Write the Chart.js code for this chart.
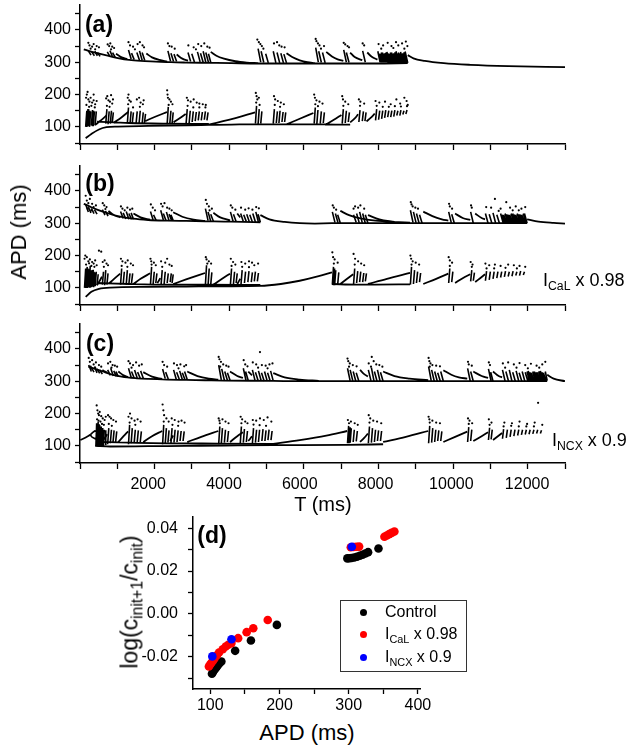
<!DOCTYPE html>
<html>
<head>
<meta charset="utf-8">
<script src="https://cdn.jsdelivr.net/npm/chart.js"></script>
<style>
  body { margin: 0; background: #fff; }
  #wrap { position: relative; width: 628px; height: 750px; background: #fff; overflow: hidden; font-family: "Liberation Sans", Arial, sans-serif; color: #000; }
  canvas { position: absolute; }
  .lbl { position: absolute; white-space: nowrap; line-height: 1; }
  .rot { transform: translate(-50%, -50%) rotate(-90deg); }
  .ctr { transform: translate(-50%, -50%); }
  .sub { font-size: 0.68em; vertical-align: -0.35em; }
  .tag { font-weight: bold; font-size: 23px; }
  #legend { position: absolute; left: 340px; top: 600px; width: 127px; height: 72px; border: 1px solid #333; box-sizing: border-box; }
  .row { position: absolute; left: 0; font-size: 16px; line-height: 1; white-space: nowrap; }
  .dot { position: absolute; left: 19px; width: 7px; height: 7px; border-radius: 50%; }
  .txt { position: absolute; left: 44px; }
</style>
</head>
<body>
<div id="wrap">
  <canvas id="chartA" width="628" height="152" style="left:0;top:0;width:628px;height:152px"></canvas>
  <canvas id="chartB" width="628" height="152" style="left:0;top:161px;width:628px;height:152px"></canvas>
  <canvas id="chartC" width="628" height="182" style="left:0;top:319px;width:628px;height:182px"></canvas>
  <canvas id="chartD" width="340" height="215" style="left:100px;top:505px;width:340px;height:215px"></canvas>

  <div class="lbl tag ctr" style="left:99px;top:24px">(a)</div>
  <div class="lbl tag ctr" style="left:100px;top:183px">(b)</div>
  <div class="lbl tag ctr" style="left:100px;top:343px">(c)</div>
  <div class="lbl tag ctr" style="left:212px;top:535px">(d)</div>

  <div class="lbl rot" style="left:19px;top:232px;font-size:22px">APD (ms)</div>
  <div class="lbl ctr" style="left:323px;top:504px;font-size:20px">T (ms)</div>
  <div class="lbl" style="left:543px;top:271px;font-size:18px">I<span class="sub">CaL</span> x 0.98</div>
  <div class="lbl" style="left:552px;top:431px;font-size:18px">I<span class="sub">NCX</span> x 0.9</div>

  <div class="lbl rot" style="left:132px;top:602px;font-size:23px">log(c<span class="sub">init+1</span>/c<span class="sub">init</span>)</div>
  <div class="lbl ctr" style="left:307px;top:733px;font-size:22px">APD (ms)</div>

  <div id="legend">
    <div class="row" style="top:3px"><span class="dot" style="top:5px;background:#000"></span><span class="txt">Control</span></div>
    <div class="row" style="top:25px"><span class="dot" style="top:5px;background:#ff0000"></span><span class="txt">I<span class="sub">CaL</span> x 0.98</span></div>
    <div class="row" style="top:48px"><span class="dot" style="top:5px;background:#0000ff"></span><span class="txt">I<span class="sub">NCX</span> x 0.9</span></div>
  </div>
</div>

<script>
// tick labels of the shared time axis (only shown under panel c)
const tTickLabels = [2000, 4000, 6000, 8000, 10000, 12000];

// ---------- panel (a): control ----------
const aUpperCurve = [
  [300,340],[450,334],[650,328],[900,321],[1200,313],[1500,307],[1800,304],[2200,302],[2600,300],[3000,299],[3600,298],[4200,297],[4900,296],[6000,296],[7000,296],[8000,296],[8850,297], null,
  [1150,326],[1300,315],[1450,309], null,
  [1950,327],[2100,315],[2300,307],[2500,302], null,
  [2750,324],[2900,311],[3050,305], null,
  [3650,332],[3800,320],[4000,311],[4300,303],[4600,299],[4900,297], null,
  [5650,328],[5800,316],[6000,306],[6200,300],[6400,297], null,
  [6700,332],[6850,318],[7000,309],[7150,304], null,
  [7330,330],[7450,316],[7650,306], null,
  [7780,330],[7900,317],[8050,308], null,
  [8850,322],[9000,312],[9300,304],[9800,297],[10500,292],[11500,288],[13000,285]
];
const aUpperTeeth = [
  [420,335],[490,322],null,[510,332],[580,320],null,[590,334],[660,320],null,[660,330],[730,318],null,
  [920,332],[990,318],null,[990,336],[1060,316],null,[1060,330],[1130,315],null,
  [1480,338],[1550,310],null,[1560,328],[1630,308],null,[1700,330],[1770,306],null,[1770,335],[1840,306],null,[1840,330],[1910,305],null,
  [2520,335],[2590,303],null,[2600,328],[2670,302],null,[2680,325],[2750,302],null,
  [3050,330],[3120,302],null,[3150,326],[3220,301],null,[3300,332],[3370,301],null,[3380,328],[3450,300],null,[3450,334],[3520,300],null,[3520,330],[3590,300],null,[3590,326],[3650,300],null,
  [4900,342],[4970,300],null,[4980,334],[5050,299],null,[5100,326],[5170,298],null,[5300,334],[5370,298],null,[5400,330],[5470,298],null,[5500,328],[5570,298],null,[5580,325],[5650,298],null,
  [6420,345],[6490,300],null,[6500,334],[6570,299],null,[6600,330],[6670,298],null,
  [7160,338],[7230,300],null,[7230,330],[7300,299],null,
  [7660,335],[7730,300],null,
  [8060,334],[8120,300],null,[8090,326],[8150,299],null,[8120,326],[8180,299],null,[8150,330],[8210,299],null,[8180,330],[8240,299],null,[8210,326],[8270,299],null,
  [8240,328],[8300,299],null,[8270,330],[8330,298],null,[8300,332],[8360,298],null,[8330,327],[8390,298],null,[8360,326],[8420,298],null,[8390,330],[8450,298],null,
  [8420,330],[8480,298],null,[8450,326],[8510,298],null,[8480,328],[8540,298],null,[8510,331],[8570,298],null,[8540,334],[8600,298],null,[8570,327],[8630,298],null,
  [8600,330],[8660,298],null,[8630,328],[8690,298],null,[8660,332],[8720,298],null,[8690,327],[8750,298],null,[8720,328],[8780,298],null,[8750,331],[8810,298],null,[8780,333],[8850,298]
];
const aLowerCurve = [
  [350,65],[500,78],[700,92],[900,99],[1200,101],[2000,103],[3000,105],[3600,106],[4200,107],[4820,108],[5300,108],[5650,108],[6360,108],[7000,107],[7330,107], null,
  [650,116],[1500,112],[2500,110],[3600,109], null,
  [600,106],[750,120],[900,135], null,
  [1085,112],[1300,130],[1470,146], null,
  [1920,118],[2200,132],[2500,146], null,
  [2670,114],[2850,128],[2990,140], null,
  [3600,107],[4200,124],[4820,145], null,
  [5650,108],[6000,125],[6360,143], null,
  [6670,106],[6900,122],[7100,137], null,
  [7330,114],[7450,126],[7540,139], null,
  [7760,117],[7870,128],[7980,141]
];
const aLowerTeeth = [
  [350,100],[380,150],null,[380,100],[410,155],null,[400,102],[430,155],null,[430,102],[460,150],null,[450,100],[480,148],null,[500,104],[530,152],null,[530,102],[560,150],null,[550,102],[580,148],null,[600,105],[630,148],null,
  [880,110],[910,155],null,[940,108],[970,148],null,[1000,110],[1030,150],null,[1050,112],[1080,145],null,
  [1450,112],[1480,160],null,[1520,110],[1550,148],null,[1580,112],[1610,145],null,
  [1680,110],[1710,148],null,[1760,112],[1790,150],null,[1840,110],[1870,145],null,[1900,112],[1930,140],null,
  [2500,108],[2530,162],null,[2570,110],[2600,150],null,[2630,110],[2660,145],null,
  [3000,110],[3030,155],null,[3080,112],[3110,150],null,[3160,115],[3190,148],null,[3240,118],[3270,146],null,[3320,120],[3350,148],null,[3400,120],[3430,146],null,[3480,122],[3510,148],null,[3550,120],[3580,145],null,
  [4830,110],[4860,165],null,[4900,108],[4930,155],null,[4970,110],[5000,148],null,[5300,110],[5330,155],null,[5380,112],[5410,148],null,[5450,112],[5480,150],null,[5530,115],[5560,146],null,[5600,115],[5630,145],null,
  [6380,110],[6410,160],null,[6450,108],[6480,152],null,[6540,110],[6570,148],null,[6620,112],[6650,145],null,
  [7120,110],[7150,155],null,[7200,112],[7230,150],null,[7280,115],[7310,145],null,
  [7560,115],[7590,152],null,[7650,118],[7680,148],null,[7720,118],[7750,145],null,
  [8000,120],[8030,155],null,[8080,122],[8110,150],null,[8160,125],[8190,150],null,[8240,128],[8270,152],null,[8320,130],[8350,150],null,[8400,130],[8430,150],null,
  [8480,132],[8510,152],null,[8560,135],[8590,150],null,[8640,135],[8670,152],null,[8720,138],[8750,150],null,[8800,140],[8830,152]
];
const aDots = [
  [420,360],[450,352],[520,348],[560,356],[640,350],[700,346],[480,342],[600,340],
  [930,355],[970,350],[1000,358],[1050,348],[1100,344],[1020,340],
  [1480,362],[1520,352],[1600,348],[1720,356],[1780,362],[1850,352],[1890,346],[1650,340],
  [2520,358],[2560,350],[2620,348],[2700,342],
  [3060,352],[3200,346],[3320,356],[3400,350],[3480,358],[3560,348],[3620,345],[3260,340],
  [4880,370],[4920,362],[4960,356],[5000,350],[5320,358],[5400,362],[5460,352],[5520,348],[5600,346],[5040,342],
  [6420,372],[6440,365],[6480,358],[6520,352],[6640,350],[6560,342],
  [7160,360],[7200,355],[7260,350],[7300,346],
  [7660,358],[7700,352],
  [8080,356],[8200,352],[8320,360],[8420,350],[8540,362],[8600,352],[8700,358],[8800,364],[8840,350],[8150,342],[8470,344],[8760,342],
  [360,190],[380,200],[420,185],[450,178],[480,190],[520,175],[560,182],[600,170],[640,180],[400,208],[560,200],[370,168],[440,162],[500,165],[590,160],
  [890,188],[920,195],[950,182],[990,178],[1020,198],[1050,172],[1070,185],[910,165],[980,162],
  [1460,190],[1480,200],[1500,182],[1540,178],[1700,185],[1760,190],[1800,175],[1860,170],[1880,182],[1470,170],[1600,160],[1780,162],
  [2500,213],[2510,200],[2520,190],[2560,185],[2600,178],[2640,170],[2540,168],
  [3020,190],[3050,182],[3120,178],[3200,185],[3280,175],[3350,172],[3440,170],[3520,168],[3040,165],[3190,160],[3350,160],[3510,160],
  [4840,205],[4860,195],[4880,185],[4920,190],[5320,195],[5350,185],[5420,180],[5500,175],[5580,170],[4850,175],[4940,168],[5340,168],[5480,162],
  [6380,200],[6400,190],[6440,182],[6520,178],[6600,172],[6410,170],[6480,164],
  [7120,195],[7140,185],[7200,178],[7280,170],[7150,165],
  [7560,185],[7600,178],[7700,172],[7590,165],
  [8000,180],[8100,175],[8250,178],[8400,170],[8550,185],[8650,172],[8760,190],[8820,180],[8850,168],[8030,165],[8190,162],[8350,162],[8510,164],[8670,163],[8830,164]
];

// ---------- panel (b): ICaL x 0.98 ----------
const bUpperCurve = [
  [300,360],[450,352],[650,342],[900,332],[1200,322],[1600,314],[2000,310],[2500,308],[3000,307],[3500,306],[4000,305],[4500,304],[4960,303], null,
  [950,338],[1100,325],[1260,318], null,
  [1610,330],[1800,318],[2050,311], null,
  [2660,334],[2900,320],[3200,311],[3500,307], null,
  [3720,332],[3900,318],[4160,309], null,
  [4350,330],[4430,318], null,
  [4960,325],[5200,312],[5600,304],[6000,300],[6400,299],[6850,300],[8000,300],[9000,300],[10000,300],[11000,300],[12000,300], null,
  [7070,338],[7300,325],[7600,315],[8000,308],[8500,304],[8910,302], null,
  [7800,325],[8100,312],[8500,304], null,
  [9260,336],[9500,322],[9750,312],[9920,308], null,
  [10100,330],[10300,316],[10500,310], null,
  [10630,330],[10800,316],[10890,312], null,
  [12000,312],[12300,305],[12700,301],[13000,299]
];
const bUpperTeeth = [
  [350,358],[420,335],null,[420,350],[490,332],null,[500,346],[570,330],null,[580,342],[650,328],null,
  [790,342],[860,325],null,[870,338],[940,322],null,
  [1270,336],[1340,315],null,[1340,332],[1410,313],null,[1420,336],[1490,312],null,[1490,330],[1560,312],null,[1550,332],[1610,312],null,
  [2060,336],[2130,310],null,[2140,326],[2210,309],null,
  [2330,340],[2400,310],null,[2400,330],[2470,308],null,[2480,335],[2550,308],null,[2550,328],[2620,308],null,[2600,326],[2660,308],null,
  [3510,345],[3580,308],null,[3580,335],[3650,306],null,[3650,328],[3720,306],null,
  [4170,335],[4240,306],null,[4250,328],[4320,305],null,
  [4440,330],[4510,305],null,[4520,326],[4590,305],null,[4600,328],[4670,304],null,[4680,326],[4750,304],null,[4760,330],[4830,304],null,[4840,335],[4910,303],null,[4900,328],[4960,303],null,
  [6860,335],[6930,302],null,[6940,330],[7010,301],null,[7000,326],[7070,301],null,
  [7420,326],[7490,302],null,[7500,330],[7570,301],null,[7580,335],[7650,301],null,[7660,330],[7730,300],null,[7730,326],[7800,300],null,
  [8920,340],[8990,302],null,[9000,335],[9070,301],null,[9080,330],[9150,300],null,[9160,326],[9230,300],null,
  [9930,335],[10000,301],null,[10010,328],[10080,300],null,
  [10510,335],[10580,300],null,
  [10900,330],[10970,300],null,[11000,328],[11070,300],null,[11100,332],[11170,300],null,[11200,326],[11270,300],null,[11300,330],[11370,300],null,[11340,326],[11410,300],null,
  [11380,326],[11450,300],null,[11420,330],[11490,300],null,[11460,328],[11530,300],null,[11500,326],[11570,300],null,[11540,326],[11610,300],null,[11580,330],[11650,300],null,
  [11620,330],[11690,300],null,[11660,327],[11730,300],null,[11700,326],[11770,300],null,[11740,330],[11810,300],null,[11780,328],[11850,300],null,[11820,327],[11890,300],null,
  [11860,326],[11930,300],null,[11900,330],[11970,300],null,[11930,330],[12000,300]
];
const bLowerCurve = [
  [350,72],[500,88],[700,97],[1000,101],[2000,103],[3000,104],[4000,105],[4960,106],[5500,112],[6000,122],[6500,136],[6850,148], null,
  [650,115],[1500,112],[2500,110],[3500,110],[4960,109], null,
  [6850,112],[7500,110],[8000,110],[8910,111], null,
  [650,108],[720,122],[780,135], null,
  [950,112],[1100,128],[1260,144], null,
  [1610,112],[1800,128],[2050,145], null,
  [2240,115],[2280,122],[2320,130], null,
  [2660,112],[3000,126],[3500,146], null,
  [3720,110],[3950,128],[4160,144], null,
  [4350,112],[4390,120],[4430,128], null,
  [7070,112],[7250,128],[7410,142], null,
  [7800,112],[8300,128],[8910,146], null,
  [9260,112],[9600,128],[9920,144], null,
  [10100,115],[10300,130],[10500,142], null,
  [10630,118],[10760,130],[10890,142]
];
const bLowerTeeth = [
  [320,100],[350,160],null,[340,100],[370,158],null,[360,102],[390,165],null,[380,100],[410,160],null,[400,100],[430,155],null,[420,102],[450,158],null,[440,104],[470,168],null,
  [460,100],[490,155],null,[480,102],[510,150],null,[500,102],[530,155],null,[520,105],[550,156],null,[540,104],[570,150],null,[560,102],[590,148],null,[600,105],[630,150],null,[650,108],[680,142],null,
  [790,110],[820,150],null,[850,108],[880,155],null,[910,110],[940,145],null,
  [1270,110],[1300,160],null,[1340,112],[1370,150],null,[1420,110],[1450,155],null,[1490,112],[1520,145],null,[1560,115],[1590,145],null,
  [2060,110],[2090,165],null,[2130,112],[2160,150],null,[2200,115],[2230,145],null,
  [2340,110],[2370,155],null,[2420,112],[2450,150],null,[2500,115],[2530,145],null,[2580,118],[2610,145],null,[2630,115],[2660,142],null,
  [3510,110],[3540,170],null,[3580,108],[3610,160],null,[3650,110],[3680,148],null,
  [4170,110],[4200,160],null,[4250,112],[4280,150],null,[4320,115],[4350,145],null,
  [4450,112],[4480,155],null,[4540,115],[4570,150],null,[4630,118],[4660,152],null,[4720,118],[4750,148],null,[4800,120],[4830,150],null,[4880,120],[4910,146],null,
  [6860,110],[6890,165],null,[6890,108],[6920,160],null,[6920,108],[6950,155],null,[7000,110],[7030,148],null,
  [7420,112],[7450,160],null,[7500,115],[7530,152],null,[7580,118],[7610,150],null,[7660,118],[7690,146],null,[7730,120],[7760,145],null,
  [8920,110],[8950,165],null,[9000,112],[9030,155],null,[9080,115],[9110,150],null,[9160,118],[9190,146],null,
  [9930,115],[9960,160],null,[10010,118],[10040,150],null,
  [10510,120],[10540,155],null,[10580,122],[10610,147],null,
  [10900,122],[10930,152],null,[11000,125],[11030,150],null,[11100,128],[11130,150],null,[11200,130],[11230,150],null,[11300,132],[11330,150],null,[11400,134],[11430,152],null,
  [11500,135],[11530,150],null,[11600,136],[11630,152],null,[11700,138],[11730,150],null,[11800,138],[11830,152],null,[11900,140],[11930,150]
];
const bDots = [
  [350,385],[380,370],[420,362],[460,375],[520,360],[560,350],[620,355],[400,345],[500,340],
  [800,362],[840,355],[900,350],[870,344],
  [1280,352],[1320,345],[1380,340],[1450,348],[1520,342],[1580,345],
  [2070,358],[2120,348],[2180,340],
  [2340,360],[2380,352],[2430,362],[2500,348],[2560,345],[2620,340],
  [3520,372],[3550,360],[3600,352],[3680,345],[3620,340],
  [4180,355],[4220,348],[4300,342],
  [4450,348],[4560,342],[4650,346],[4750,342],[4850,350],[4920,346],
  [6870,355],[6900,348],[6960,342],
  [7420,345],[7460,352],[7540,348],[7600,355],[7700,345],
  [8930,365],[8950,358],[8980,352],[9050,348],[9120,345],
  [9940,360],[9960,352],[10020,345],
  [10520,355],[10540,348],
  [10920,350],[11050,348],[11150,375],[11300,345],[11450,365],[11550,348],[11700,352],[11850,345],[11950,350],[11250,338],[11620,340],[11780,340],
  [320,190],[340,200],[380,195],[420,182],[460,188],[520,180],[560,175],[600,185],[640,170],[700,215],[760,212],[360,172],[440,176],[500,168],[580,165],
  [800,180],[850,185],[900,175],[940,170],[830,165],
  [1280,190],[1320,182],[1400,178],[1460,185],[1540,175],[1600,170],[1300,168],[1450,165],
  [2060,190],[2080,182],[2150,178],[2200,170],[2090,172],
  [2340,182],[2450,178],[2500,190],[2560,172],[2620,168],[2370,165],
  [3520,195],[3540,188],[3600,182],[3660,175],[3560,175],
  [4180,190],[4240,180],[4300,172],[4200,168],
  [4460,180],[4560,175],[4660,182],[4740,178],[4800,170],[4900,175],[4480,165],[4660,164],
  [6860,210],[6880,195],[6920,188],[7000,178],[6900,175],
  [7420,205],[7460,190],[7540,182],[7620,175],[7700,170],[7450,172],
  [8920,200],[8940,190],[8980,182],[9060,178],[9150,172],[8950,172],
  [9930,195],[9960,185],[10020,178],[9960,168],
  [10510,180],[10560,172],[10540,165],
  [10900,175],[11000,170],[11150,172],[11300,168],[11500,172],[11650,170],[11800,168],[11950,165],[10930,160],[11130,160],[11430,162],[11730,160]
];

// ---------- panel (c): INCX x 0.9 ----------
const cUpperCurve = [
  [420,345],[600,338],[800,330],[1000,322],[1300,314],[1700,309],[2000,307],[2500,305],[3000,304],[3500,303],[4000,302],[5300,301],[6000,300],[7250,300],[8200,300],[9390,300],[10500,300],[12530,300], null,
  [790,335],[860,330],[920,326], null,
  [1210,330],[1350,318],[1470,313], null,
  [1870,328],[2100,314],[2370,307], null,
  [3030,330],[3300,316],[3600,308],[3850,305], null,
  [4160,330],[4350,316],[4500,310], null,
  [4640,330],[4690,324],[4740,318], null,
  [5300,325],[5600,312],[6000,305],[6500,301], null,
  [7590,335],[7700,322],[7800,315], null,
  [8200,330],[8500,316],[8900,308],[9390,303], null,
  [9790,334],[10000,320],[10200,312],[10420,308], null,
  [10580,330],[10800,316],[10970,310], null,
  [11100,330],[11250,316],[11340,312], null,
  [12530,320],[12700,308],[13000,300]
];
const cUpperTeeth = [
  [430,350],[500,330],null,[500,342],[570,328],null,[580,345],[650,326],null,[650,338],[720,324],null,[720,335],[790,322],null,
  [930,335],[1000,318],null,[1010,340],[1080,316],null,[1090,332],[1160,315],null,[1150,330],[1210,314],null,
  [1480,340],[1550,312],null,[1560,330],[1630,310],null,[1640,335],[1710,310],null,[1720,328],[1790,309],null,[1800,332],[1870,309],null,
  [2380,338],[2450,308],null,[2460,328],[2530,307],null,
  [2670,335],[2740,306],null,[2750,328],[2820,306],null,[2830,332],[2900,305],null,[2900,326],[2970,305],null,[2960,330],[3030,305],null,
  [3860,350],[3930,304],null,[3940,338],[4010,303],null,[4020,330],[4090,303],null,[4090,326],[4160,303],null,
  [4510,340],[4580,303],null,[4570,330],[4640,302],null,
  [4750,335],[4820,302],null,[4830,328],[4900,302],null,[4910,332],[4980,302],null,[4990,326],[5060,301],null,[5070,330],[5140,301],null,[5150,326],[5220,301],null,[5230,332],[5300,301],null,
  [7260,340],[7330,301],null,[7330,335],[7400,301],null,[7410,330],[7480,300],null,[7490,326],[7560,300],null,
  [7810,335],[7880,301],null,[7890,342],[7960,300],null,[7970,330],[8040,300],null,[8050,335],[8120,300],null,[8130,328],[8200,300],null,
  [9400,345],[9470,301],null,[9480,335],[9550,300],null,[9560,330],[9630,300],null,[9640,326],[9710,300],null,[9720,330],[9790,300],null,
  [10430,340],[10500,300],null,[10510,330],[10580,300],null,
  [10980,338],[11050,300],null,[11040,328],[11100,300],null,
  [11350,335],[11420,300],null,[11440,330],[11510,300],null,[11530,335],[11600,300],null,[11620,328],[11690,300],null,[11710,332],[11780,300],null,[11790,326],[11860,300],null,
  [11870,330],[11940,300],null,[11950,328],[12020,300],null,[12000,330],[12060,300],null,[12030,332],[12100,300],null,[12070,328],[12140,300],null,[12110,326],[12180,300],null,
  [12150,330],[12220,300],null,[12190,330],[12260,300],null,[12230,328],[12300,300],null,[12270,328],[12340,300],null,[12310,331],[12380,300],null,[12350,332],[12420,300],null,
  [12390,328],[12460,300],null,[12430,326],[12500,300],null,[12480,330],[12530,302]
];
const cLowerCurve = [
  [206,118],[350,126],[470,134], null,
  [600,100],[1000,98],[2000,99],[3000,100],[4000,101],[5300,102],[6000,102],[7250,103],[8200,105], null,
  [650,112],[1500,110],[2500,108],[3850,107],[5300,106], null,
  [790,112],[850,124],[920,136], null,
  [1210,112],[1350,130],[1470,145], null,
  [1870,112],[2100,130],[2370,146], null,
  [2580,115],[2620,124],[2660,132], null,
  [3030,112],[3400,128],[3850,146], null,
  [4160,112],[4350,130],[4500,142], null,
  [4640,115],[4690,122],[4740,130], null,
  [5300,106],[6000,118],[6700,132],[7250,146], null,
  [7590,112],[7700,125],[7800,138], null,
  [8200,112],[8800,128],[9390,146], null,
  [9790,112],[10100,128],[10420,144], null,
  [10580,115],[10800,130],[10970,142], null,
  [11100,118],[11220,129],[11340,140]
];
const cLowerTeeth = [
  [470,134],[520,127],[600,122],[660,128],[680,136],[650,144],[590,146],[530,141],[470,134],null,
  [620,100],[640,170],null,[640,100],[660,165],null,[660,98],[680,175],null,[680,100],[700,168],null,[700,100],[720,165],null,[720,100],[740,160],null,[740,100],[760,160],null,
  [760,102],[780,155],null,[780,102],[800,155],null,[800,100],[820,150],null,[820,100],[840,150],null,[860,104],[880,148],null,
  [930,105],[960,155],null,[1000,108],[1030,150],null,[1070,110],[1100,148],null,[1140,112],[1170,145],null,
  [1480,105],[1510,165],null,[1550,108],[1580,155],null,[1630,110],[1660,150],null,[1710,112],[1740,148],null,[1790,112],[1820,145],null,
  [2380,105],[2410,165],null,[2450,108],[2480,155],null,[2520,110],[2550,148],null,
  [2600,108],[2630,155],null,[2680,110],[2710,150],null,[2760,112],[2790,148],null,[2840,115],[2870,146],null,[2920,115],[2950,145],null,
  [3860,105],[3890,160],null,[3930,108],[3960,155],null,[4010,110],[4040,150],null,[4090,112],[4120,146],null,
  [4430,108],[4460,160],null,[4510,110],[4540,152],null,[4590,112],[4620,146],null,
  [4750,108],[4780,155],null,[4830,110],[4860,150],null,[4910,112],[4940,150],null,[5000,115],[5030,152],null,[5080,115],[5110,148],null,[5160,118],[5190,150],null,[5240,118],[5270,146],null,
  [7260,108],[7290,162],null,[7300,108],[7330,158],null,[7330,110],[7360,155],null,[7410,112],[7440,150],null,[7490,114],[7520,146],null,
  [7810,108],[7840,160],null,[7890,110],[7920,155],null,[7970,112],[8000,150],null,[8050,115],[8080,148],null,[8130,115],[8160,146],null,
  [9400,108],[9430,162],null,[9480,110],[9510,155],null,[9560,112],[9590,150],null,[9640,115],[9670,148],null,[9720,115],[9750,145],null,
  [10430,112],[10460,158],null,[10510,115],[10540,150],null,
  [10980,118],[11010,156],null,[11050,120],[11080,150],null,
  [11350,122],[11380,152],null,[11450,125],[11480,150],null,[11550,128],[11580,150],null,[11650,130],[11680,150],null,[11750,132],[11780,150],null,[11850,134],[11880,150],null,
  [11950,135],[11980,150],null,[12050,136],[12080,150],null,[12150,137],[12180,150],null,[12250,138],[12280,150],null,[12350,138],[12380,148]
];
const cDots = [
  [430,372],[460,360],[520,365],[560,352],[620,358],[700,350],[760,345],[480,345],[600,342],
  [940,355],[1000,360],[1060,350],[1120,348],[1180,345],[1030,342],
  [1480,362],[1520,355],[1600,350],[1680,358],[1760,348],[1830,352],[1560,342],
  [2380,360],[2420,350],[2500,345],
  [2680,355],[2760,350],[2850,352],[2950,346],[3000,350],[2800,340],
  [3860,375],[3880,368],[3920,360],[3980,352],[4060,348],[4120,345],[3900,345],
  [4520,365],[4560,352],[4620,346],
  [4760,358],[4850,352],[4950,390],[5000,350],[5100,348],[5200,352],[5280,355],[4900,342],[5150,340],
  [7260,370],[7280,362],[7320,355],[7400,350],[7500,346],[7300,345],
  [7820,355],[7900,375],[7950,362],[8020,352],[8100,350],[8180,345],[7880,345],
  [9400,372],[9420,362],[9450,355],[9500,350],[9600,348],[9700,346],[9430,345],
  [10440,360],[10460,352],[10540,348],
  [10990,358],[11020,350],
  [11360,355],[11500,358],[11650,352],[11800,356],[11950,350],[12100,354],[12250,348],[12400,352],[12480,360],[11420,342],[11720,342],[12020,340],[12320,342],
  [640,225],[660,210],[680,200],[700,195],[720,205],[760,192],[800,185],[850,180],[880,190],[650,182],[690,178],[740,175],[780,168],[830,165],
  [940,195],[980,190],[1020,185],[1080,180],[1150,175],[960,168],[1040,162],
  [1480,190],[1520,200],[1560,185],[1640,178],[1720,182],[1800,175],[1510,172],[1660,165],
  [2380,228],[2400,210],[2420,195],[2480,185],[2540,175],[2410,175],
  [2620,185],[2700,180],[2800,175],[2880,178],[2960,172],[2640,165],[2790,162],
  [3860,185],[3880,178],[3960,182],[4040,175],[4120,170],[3890,170],
  [4440,190],[4480,182],[4560,175],[4620,170],[4460,170],
  [4760,180],[4850,178],[4950,185],[5050,180],[5150,188],[5250,175],[4780,166],[4940,164],[5110,162],
  [7270,180],[7350,175],[7450,170],[7530,165],[7300,170],
  [7820,195],[7860,185],[7940,178],[8040,175],[8150,170],[7840,172],
  [9400,190],[9420,182],[9500,178],[9600,172],[9700,170],[9430,172],
  [10440,185],[10480,178],[10550,170],[10460,168],
  [10990,182],[11060,172],[11010,165],
  [11400,172],[11600,170],[11800,175],[12000,168],[12200,172],[12290,233],[12400,165],[11380,160],[11580,162],[11780,160],[11980,160],[12180,160]
];

// ---------- panel (d): log(c_init+1/c_init) vs APD ----------
const dControl = [
  [102.4,-0.0279],[104,-0.027],[106,-0.026],[108,-0.0252],[109.6,-0.0245],[111.5,-0.0237],[113.6,-0.0229],[116,-0.0222],
  [135.9,-0.0172],[158.7,-0.0124],[196.2,-0.0051],
  [298,0.0259],[301,0.026],[304,0.0261],[308,0.0263],[312,0.0267],[316,0.0271],[320,0.0276],[324,0.0282],[328,0.0288],[343,0.0305]
];
const dCaL = [
  [98,-0.0245],[99.5,-0.0237],[101.4,-0.0229],[103.8,-0.0218],[106.3,-0.0206],[109.5,-0.0193],[112.6,-0.018],
  [118,-0.0165],[122.3,-0.0152],[126,-0.0144],[130.6,-0.0136],[140.2,-0.0113],[152.5,-0.0085],[162.1,-0.0067],[183,-0.0028],
  [303,0.0311],[307,0.0312],[311,0.0313],[315,0.0314],
  [351.6,0.036],[355,0.0366],[358.5,0.0372],[362,0.0378],[366,0.0384]
];
const dNCX = [[102.9,-0.0198],[130.6,-0.0118],[304.5,0.0313]];

// ---------- shared setup ----------
const FONT = '"Liberation Sans", Arial, sans-serif';
Chart.defaults.font.family = FONT;
Chart.defaults.color = '#000';

function pts(arr) {
  return arr.map(p => p ? {x: p[0], y: p[1]} : {x: null, y: null});
}

// fixed axis thickness so every plot area sits where the figure has it
function fixAxis(size, horizontal) {
  return function (scale) {
    if (horizontal) scale.height = size; else scale.width = size;
    scale.paddingTop = 0; scale.paddingBottom = 0;
    scale.paddingLeft = 0; scale.paddingRight = 0;
  };
}

// writes the time labels under the bottom panel at the x scale's own positions
const timeLabels = {
  id: "timeLabels",
  afterDraw(chart, args, opts) {
    if (!opts.show) return;
    const sx = chart.scales.x;
    const ctx = chart.ctx;
    ctx.save();
    ctx.font = "16px " + FONT;
    ctx.fillStyle = "#000";
    ctx.textAlign = "center";
    ctx.textBaseline = "middle";
    tTickLabels.forEach(v => ctx.fillText(String(v), sx.getPixelForValue(v), sx.top + 22));
    ctx.restore();
  }
};

function makePanel(id, upperCurve, upperTeeth, lowerCurve, lowerTeeth, dots, bottomPanel, canvasH) {
  const ctx = document.getElementById(id).getContext("2d");
  new Chart(ctx, {
    type: "scatter",
    data: {
      datasets: [
        { data: pts(upperCurve.concat([null], lowerCurve)), showLine: true, borderColor: "#000", borderWidth: 1.8,
          pointRadius: 0, tension: 0.4, cubicInterpolationMode: "monotone", spanGaps: false },
        { data: pts(upperTeeth.concat([null], lowerTeeth)), showLine: true, borderColor: "#000", borderWidth: 1.6,
          pointRadius: 0, tension: 0, spanGaps: false },
        { data: pts(dots), showLine: false, pointRadius: 1.1, backgroundColor: "#000", borderWidth: 0 }
      ]
    },
    plugins: [timeLabels],
    options: {
      responsive: false,
      devicePixelRatio: 1,
      animation: false,
      layout: { padding: { left: 0, right: 63, top: 5, bottom: 0 } },
      plugins: { legend: { display: false }, tooltip: { enabled: false }, timeLabels: { show: bottomPanel } },
      scales: {
        x: {
          type: "linear", min: 200, max: 13000,
          border: { display: true, color: "#000", width: 1.5 },
          grid: { drawOnChartArea: false, drawTicks: true, tickLength: 6, tickWidth: 1.3, tickColor: "#000" },
          ticks: { display: false, stepSize: 1000, includeBounds: false, autoSkip: false },
          afterFit: fixAxis(canvasH - 144, true)
        },
        y: {
          type: "linear", min: 47, max: 477,
          border: { display: true, color: "#000", width: 1.5 },
          grid: { drawOnChartArea: false, drawTicks: true, tickLength: 5, tickWidth: 1.3, tickColor: "#000" },
          ticks: {
            stepSize: 50, includeBounds: false, autoSkip: false, padding: 4,
            font: { size: 16 }, color: "#000",
            callback: v => (v % 100 === 0 ? String(v) : "")
          },
          afterFit: fixAxis(80, false)
        }
      }
    }
  });
}

makePanel("chartA", aUpperCurve, aUpperTeeth, aLowerCurve, aLowerTeeth, aDots, false, 152);
makePanel("chartB", bUpperCurve, bUpperTeeth, bLowerCurve, bLowerTeeth, bDots, false, 152);
makePanel("chartC", cUpperCurve, cUpperTeeth, cLowerCurve, cLowerTeeth, cDots, true, 182);

// panel (d)
new Chart(document.getElementById("chartD").getContext("2d"), {
  type: "scatter",
  data: {
    datasets: [
      { label: "INCX x 0.9", data: pts(dNCX), order: 0, pointRadius: 4.3, backgroundColor: "#0000ff", borderWidth: 0 },
      { label: "ICaL x 0.98", data: pts(dCaL), order: 1, pointRadius: 4.3, backgroundColor: "#ff0000", borderWidth: 0 },
      { label: "Control", data: pts(dControl), order: 2, pointRadius: 4.3, backgroundColor: "#000000", borderWidth: 0 }
    ]
  },
  options: {
    responsive: false,
    devicePixelRatio: 1,
    animation: false,
    layout: { padding: { left: 0, right: 20, top: 12, bottom: 0 } },
    plugins: { legend: { display: false }, tooltip: { enabled: false } },
    scales: {
      x: {
        type: "linear", min: 75, max: 403,
        border: { display: true, color: "#000", width: 1.5 },
        grid: { drawOnChartArea: false, drawTicks: true, tickLength: 5, tickWidth: 1.3, tickColor: "#000" },
        ticks: {
          stepSize: 50, includeBounds: false, autoSkip: false, maxRotation: 0, padding: 2,
          font: { size: 16 }, color: "#000",
          callback: v => (v % 100 === 0 ? String(v) : "")
        },
        afterFit: fixAxis(31, true)
      },
      y: {
        type: "linear", min: -0.035, max: 0.0452,
        border: { display: true, color: "#000", width: 1.5 },
        grid: { drawOnChartArea: false, drawTicks: true, tickLength: 5, tickWidth: 1.3, tickColor: "#000" },
        ticks: {
          stepSize: 0.01, includeBounds: false, autoSkip: false, padding: 10,
          font: { size: 16 }, color: "#000",
          callback: v => (Math.round(v * 100) % 2 === 0 ? v.toFixed(2) : "")
        },
        afterFit: fixAxis(93, false)
      }
    }
  }
});
</script>
</body>
</html>
